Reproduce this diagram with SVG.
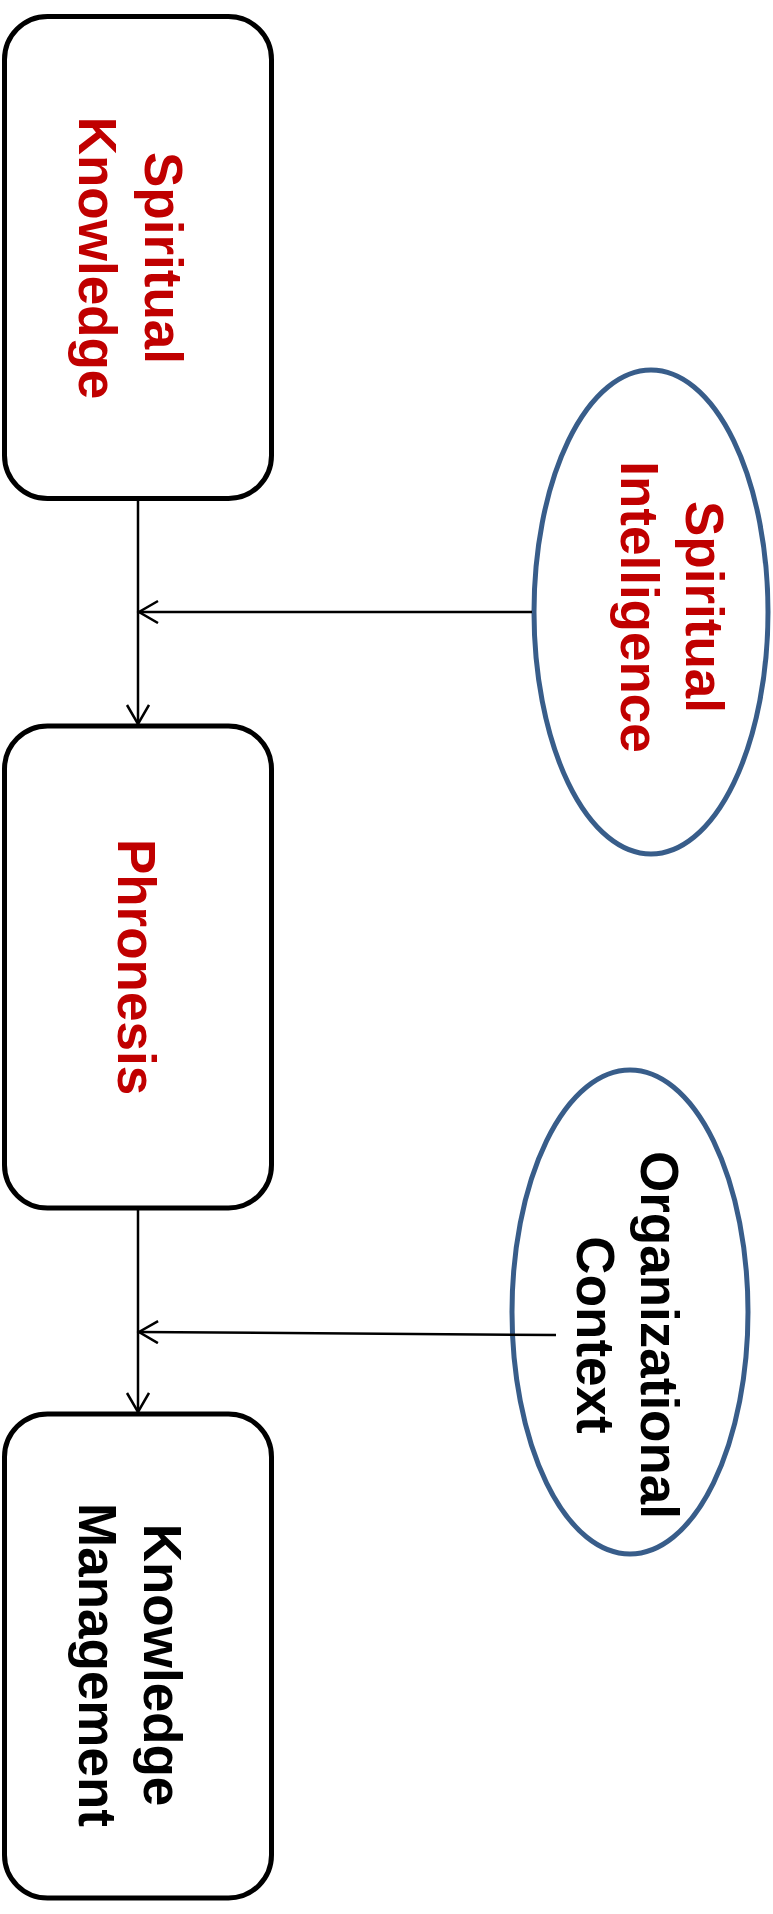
<svg xmlns="http://www.w3.org/2000/svg" width="773" height="1914" viewBox="0 0 773 1914">
<style>
.box{fill:#ffffff;stroke:#000000;stroke-width:5}
.ell{fill:#ffffff;stroke:#385d8a;stroke-width:5}
.t{font-family:"Liberation Sans",Arial,sans-serif;font-weight:bold;font-size:53px;text-anchor:middle}
.red{fill:#c00000}
.blk{fill:#000000}
.con{stroke:#000000;stroke-width:2.5;fill:none}
</style>
<defs>
<marker id="arr" markerUnits="userSpaceOnUse" markerWidth="26" markerHeight="26" refX="21" refY="12" orient="auto">
<path d="M2,1 L21,12 L2,23" fill="none" stroke="#000000" stroke-width="2.5"/>
</marker>
</defs>
<rect width="773" height="1914" fill="#ffffff"/>
<g id="spiritual-knowledge">
<rect class="box" x="4.5" y="16.5" width="267" height="482" rx="43" ry="43"/>
<text class="t red" transform="translate(145,258) rotate(90)">Spiritual</text>
<text class="t red" transform="translate(79,258) rotate(90)">Knowledge</text>
</g>
<g id="phronesis">
<rect class="box" x="4.5" y="726" width="267" height="482" rx="43" ry="43"/>
<text class="t red" transform="translate(118,967) rotate(90)">Phronesis</text>
</g>
<g id="knowledge-management">
<rect class="box" x="4.5" y="1414" width="267" height="484" rx="43" ry="43"/>
<text class="t blk" transform="translate(144,1665) rotate(90)">Knowledge</text>
<text class="t blk" transform="translate(79,1665) rotate(90)">Management</text>
</g>
<g id="spiritual-intelligence">
<ellipse class="ell" cx="651" cy="612" rx="117" ry="242"/>
<text class="t red" transform="translate(686,607) rotate(90)">Spiritual</text>
<text class="t red" transform="translate(621,607) rotate(90)">Intelligence</text>
</g>
<g id="organizational-context">
<ellipse class="ell" cx="630" cy="1312" rx="118" ry="242"/>
<text class="t blk" transform="translate(641,1335) rotate(90)">Organizational</text>
<text class="t blk" transform="translate(577,1335) rotate(90)">Context</text>
</g>
<g id="connectors">
<line class="con" x1="138" y1="499" x2="138" y2="724" marker-end="url(#arr)"/>
<line class="con" x1="532" y1="612" x2="139" y2="612" marker-end="url(#arr)"/>
<line class="con" x1="138" y1="1209" x2="138" y2="1412" marker-end="url(#arr)"/>
<line class="con" x1="556" y1="1335" x2="139" y2="1332" marker-end="url(#arr)"/>
</g>
</svg>
